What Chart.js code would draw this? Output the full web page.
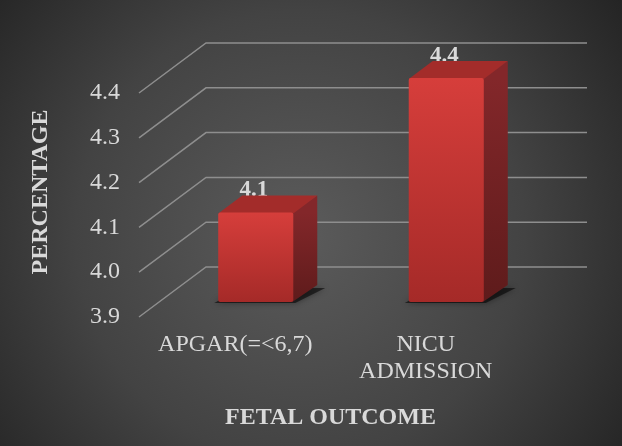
<!DOCTYPE html>
<html>
<head>
<meta charset="utf-8">
<script src="https://cdn.jsdelivr.net/npm/chart.js@4.4.0/dist/chart.umd.min.js"></script>
<style>
  html, body { margin: 0; padding: 0; background: #2b2b2b; }
  #wrap { width: 622px; height: 446px; }
</style>
</head>
<body>
<div id="wrap"><canvas id="outcomeChart" width="622" height="446"></canvas></div>
<script>
const categories = [["APGAR(=<6,7)"], ["NICU", "ADMISSION"]];
const percentages = [4.1, 4.4];
const yTicks = [3.9, 4.0, 4.1, 4.2, 4.3, 4.4];
const yTitle = "PERCENTAGE";
const xTitle = "FETAL OUTCOME";

const serif = "Liberation Serif";
const textColor = "#d9d9d9";
Chart.defaults.font.family = serif;

// fake 3d: bars sit a bit behind the label plane, grid wall further back
const shiftX = 20.5, shiftY = -15;
const depthX = 24, depthY = -17;
const wallX = 66, wallY = -50;

const ctx = document.getElementById("outcomeChart").getContext("2d");

const box3d = {
  id: "box3d",
  beforeDraw(chart) {
    const c = chart.ctx;
    const g = c.createRadialGradient(300, 235, 10, 300, 235, 400);
    g.addColorStop(0, "#5a5a5a");
    g.addColorStop(0.55, "#434343");
    g.addColorStop(1, "#242424");
    c.save();
    c.fillStyle = g;
    c.fillRect(0, 0, chart.width, chart.height);
    c.restore();
  },
  beforeDatasetsDraw(chart) {
    const c = chart.ctx;
    const area = chart.chartArea;
    const y = chart.scales.y;

    // floor-to-wall grid lines
    c.save();
    c.strokeStyle = "#8e8e8e";
    c.lineWidth = 1.5;
    yTicks.forEach(v => {
      const py = y.getPixelForValue(v);
      c.beginPath();
      c.moveTo(area.left - 1, py);
      c.lineTo(area.left + wallX, py + wallY);
      c.lineTo(area.right + wallX, py + wallY);
      c.stroke();
    });
    c.restore();

    c.save();
    c.translate(shiftX, shiftY);
    const meta = chart.getDatasetMeta(0);
    meta.data.forEach((bar, i) => {
      const left = bar.x - bar.width / 2;
      const right = bar.x + bar.width / 2;
      const top = bar.y;
      const bottom = bar.base;

      // value label, sits behind the box top
      c.save();
      c.font = "bold 23px " + serif;
      c.fillStyle = textColor;
      c.textAlign = "center";
      c.textBaseline = "alphabetic";
      c.fillText(percentages[i].toFixed(1), bar.x - 2, top + depthY + 1);
      c.restore();

      // shadow on the floor
      c.save();
      c.fillStyle = "rgba(0,0,0,0.55)";
      c.shadowColor = "rgba(0,0,0,0.7)";
      c.shadowBlur = 6;
      c.beginPath();
      c.moveTo(left - 4, bottom + 1);
      c.lineTo(right + 2, bottom + 1);
      c.lineTo(right + depthX + 8, bottom + depthY + 3);
      c.lineTo(left + depthX, bottom + depthY + 3);
      c.closePath();
      c.fill();
      c.restore();

      // right side
      const sg = c.createLinearGradient(0, top, 0, bottom);
      sg.addColorStop(0, "#83272a");
      sg.addColorStop(1, "#5e1b1b");
      c.fillStyle = sg;
      c.beginPath();
      c.moveTo(right - 1, top);
      c.lineTo(right + depthX, top + depthY);
      c.lineTo(right + depthX, bottom + depthY);
      c.lineTo(right - 1, bottom);
      c.closePath();
      c.fill();

      // top face
      c.fillStyle = "#a32c2a";
      c.beginPath();
      c.moveTo(left, top + 1);
      c.lineTo(right, top + 1);
      c.lineTo(right + depthX, top + depthY);
      c.lineTo(left + depthX, top + depthY);
      c.closePath();
      c.fill();
    });
  },
  afterDatasetsDraw(chart) {
    chart.ctx.restore();
  },
  afterDraw(chart) {
    const c = chart.ctx;
    const area = chart.chartArea;
    const xs = chart.scales.x, ys = chart.scales.y;
    c.save();
    c.fillStyle = textColor;
    c.font = "24px " + serif;
    c.textBaseline = "middle";

    // value axis labels on the front plane
    c.textAlign = "right";
    yTicks.forEach(v => {
      c.fillText(v.toFixed(1), area.left - 20, ys.getPixelForValue(v));
    });

    // category labels
    c.textAlign = "center";
    categories.forEach((lines, i) => {
      const px = xs.getPixelForValue(i);
      lines.forEach((line, k) => {
        c.fillText(line, px, area.bottom + 28 + k * 27);
      });
    });

    // rotated value axis title
    c.translate(41, 192);
    c.rotate(-Math.PI / 2);
    c.font = "bold 24px " + serif;
    c.textAlign = "center";
    c.fillText(yTitle, 0, 0);
    c.restore();
  }
};

function frontFill(context) {
  const chart = context.chart;
  const ys = chart.scales.y;
  if (!chart.chartArea || !ys || !context.parsed) return "#c0342f";
  const top = ys.getPixelForValue(context.parsed.y);
  const bottom = ys.getPixelForValue(yTicks[0]);
  if (!isFinite(top) || !isFinite(bottom)) return "#c0342f";
  const g = chart.ctx.createLinearGradient(0, top, 0, bottom);
  g.addColorStop(0, "#d63e3b");
  g.addColorStop(1, "#a52a28");
  return g;
}

new Chart(ctx, {
  type: "bar",
  data: {
    labels: categories,
    datasets: [{
      data: percentages,
      base: yTicks[0],
      backgroundColor: frontFill,
      borderRadius: 2,
      borderSkipped: false,
      barPercentage: 0.394,
      categoryPercentage: 1,
      clip: false
    }]
  },
  options: {
    responsive: false,
    animation: false,
    devicePixelRatio: 1,
    layout: { padding: { left: 80, right: 101, top: 93, bottom: 0 } },
    plugins: {
      legend: { display: false },
      tooltip: { enabled: false }
    },
    scales: {
      x: {
        grid: { display: false, drawTicks: false },
        border: { display: false },
        ticks: { display: false },
        title: {
          display: true,
          text: xTitle,
          color: textColor,
          padding: { top: 0, bottom: 14 },
          font: { family: serif, size: 24, weight: "bold" }
        },
        afterFit: s => { s.height = 129; }
      },
      y: {
        min: yTicks[0],
        max: yTicks[yTicks.length - 1],
        grid: { display: false, drawTicks: false },
        border: { display: false },
        afterBuildTicks: s => { s.ticks = yTicks.map(v => ({ value: v })); },
        ticks: { display: false },
        afterFit: s => { s.width = 60; }
      }
    }
  },
  plugins: [box3d]
});
</script>
</body>
</html>
